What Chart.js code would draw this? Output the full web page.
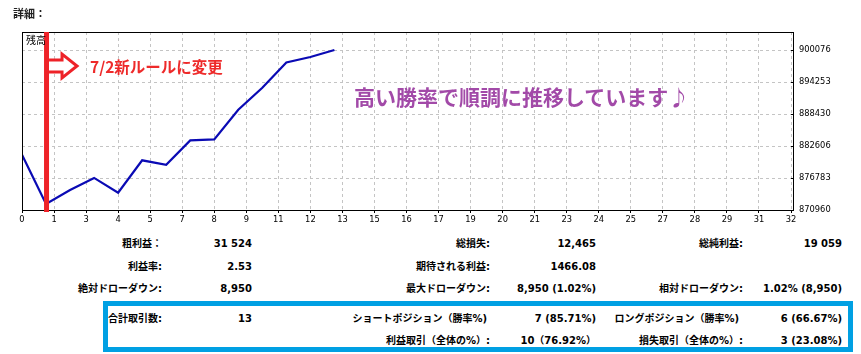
<!DOCTYPE html>
<html>
<head>
<meta charset="utf-8">
<script src="https://cdn.jsdelivr.net/npm/chart.js@4/dist/chart.umd.min.js"></script>
<style>
  html, body { margin:0; padding:0; background:#fff; }
  body { width:861px; height:354px; position:relative; overflow:hidden;
         font-family:"DejaVu Sans","Noto Sans CJK JP",sans-serif; color:#000; }
  #wrap { position:absolute; left:0; top:0; width:861px; height:230px; }
  .t { position:absolute; height:16px; line-height:16px; white-space:nowrap;
       font-weight:bold; font-size:10px; }
  .r { text-align:right; }
  #box { position:absolute; left:103px; top:301px; width:740px; height:41px;
         border:5px solid #00a0e3; }
  .ann { position:absolute; white-space:nowrap; font-family:"Noto Sans CJK JP",sans-serif; }
</style>
</head>
<body>
<div id="wrap"><canvas id="c" width="861" height="230"></canvas></div>

<div class="ann" style="left:13px;top:5px;font-size:11px;line-height:16px;font-weight:bold;color:#222;">詳細：</div>
<div class="ann" style="left:26px;top:32px;font-size:10px;line-height:16px;">残高</div>
<div class="ann" style="left:90px;top:56px;font-size:15.5px;line-height:20px;font-weight:bold;color:#ee2a2a;">7/2新ルールに変更</div>
<div class="ann" style="left:354px;top:83px;font-size:21px;line-height:26px;font-weight:bold;color:#a24aa8;">高い勝率で順調に推移しています♪</div>

<div id="box"></div>
<div id="stats"></div>

<script>
// ---- data ----
const trades   = [0, 1, 2, 3, 4, 5, 6, 7, 8, 9, 10, 11, 12, 13];
const balance  = [881017, 872067, 874600, 876800, 874100, 880000, 879185, 883620, 883810, 889200, 893200, 897820, 898800, 900076];
const xTickLabels = ['0','1','3','4','5','7','8','9','11','12','13','15','16','17','19','20','21','23','24','25','27','28','29','31','32'];
const yTickLabels = ['870960','876783','882606','888430','894253','900076'];
const yTickValues = [870960, 876783.2, 882606.4, 888429.6, 894252.8, 900076];
const xMax = 32;
const yMin = 870960, yMax = 903352;

// statistics rows: [text, rightEdge, centerY]
const statLabels = [
  ['粗利益：',162,244], ['総損失:',490,244], ['総純利益:',743,244],
  ['利益率:',162,267], ['期待される利益:',490,267],
  ['絶対ドローダウン:',162,289], ['最大ドローダウン:',490,289], ['相対ドローダウン:',743,289],
  ['合計取引数:',162,319], ['ショートポジション（勝率%)',487,319], ['ロングポジション（勝率%)',739,319],
  ['利益取引（全体の%）:',490,341], ['損失取引（全体の%）:',743,341]
];
const statValues = [
  ['31 524',252,244], ['12,465',596,244], ['19 059',842,244],
  ['2.53',252,267], ['1466.08',596,267],
  ['8,950',252,289], ['8,950 (1.02%)',596,289], ['1.02% (8,950)',842,289],
  ['13',252,319], ['7 (85.71%)',596,319], ['6 (66.67%)',842,319],
  ['10（76.92%）',596,341], ['3 (23.08%)',842,341]
];

const stats = document.getElementById('stats');
statLabels.concat(statValues).forEach(([txt, right, cy]) => {
  const d = document.createElement('div');
  d.className = 't r';
  d.style.right = (861 - right) + 'px';
  d.style.top = (cy - 8) + 'px';
  d.textContent = txt;
  stats.appendChild(d);
});

const xTickValues = xTickLabels.map((_, i) => i * xMax / (xTickLabels.length - 1));

const framePlugin = {
  id: 'frame',
  afterDatasetsDraw(chart) {
    const {ctx, chartArea: a} = chart;
    ctx.save();
    ctx.strokeStyle = '#000';
    ctx.lineWidth = 1;
    ctx.strokeRect(a.left + 0.5, a.top + 0.5, a.right - a.left + 2, a.bottom - a.top);
    ctx.restore();
  },
  afterDraw(chart) {
    const {ctx, chartArea: a} = chart;
    const xs = chart.scales.x;
    const rx = xs.getPixelForValue(1);
    ctx.save();
    ctx.fillStyle = '#ee2228';
    ctx.fillRect(rx - 2, a.top, 5, a.bottom - a.top + 2);
    const x0 = rx + 3, yc = 66;
    ctx.beginPath();
    ctx.moveTo(x0, yc - 6);
    ctx.lineTo(x0 + 13, yc - 6);
    ctx.lineTo(x0 + 13, yc - 12);
    ctx.lineTo(x0 + 28, yc);
    ctx.lineTo(x0 + 13, yc + 12);
    ctx.lineTo(x0 + 13, yc + 6);
    ctx.lineTo(x0, yc + 6);
    ctx.fillStyle = '#fff';
    ctx.fill();
    ctx.lineWidth = 3;
    ctx.strokeStyle = '#ee2228';
    ctx.lineJoin = 'miter';
    ctx.stroke();
    ctx.restore();
  }
};

new Chart(document.getElementById('c'), {
  type: 'line',
  data: {
    datasets: [{
      data: trades.map((t, i) => ({x: t, y: balance[i]})),
      borderColor: '#0a0ab4',
      borderWidth: 2.2,
      pointRadius: 0,
      tension: 0,
      fill: false
    }]
  },
  options: {
    responsive: false,
    animation: false,
    layout: { padding: { left: 22, top: 32, right: 0, bottom: 0 } },
    plugins: { legend: { display: false }, tooltip: { enabled: false } },
    scales: {
      x: {
        type: 'linear', min: 0, max: xMax,
        afterBuildTicks: s => { s.ticks = xTickValues.map(v => ({value: v})); },
        afterFit: s => { s.height = 20; },
        grid: { color: '#c4c4c4', tickLength: 3, tickColor: '#000' },
        border: { display: false, dash: [3, 3] },
        ticks: {
          autoSkip: false, maxRotation: 0, padding: 2, color: '#000',
          font: { family: 'DejaVu Sans', size: 8.3 },
          callback: (v, i) => xTickLabels[i]
        }
      },
      y: {
        type: 'linear', position: 'right', min: yMin, max: yMax,
        afterBuildTicks: s => { s.ticks = yTickValues.map(v => ({value: v})); },
        afterFit: s => { s.width = 70; },
        grid: { color: '#c4c4c4', tickLength: 3, tickColor: '#000' },
        border: { display: false, dash: [3, 3] },
        ticks: {
          autoSkip: false, padding: 5, color: '#000',
          font: { family: 'DejaVu Sans', size: 8.3 },
          callback: (v, i) => yTickLabels[i]
        }
      }
    }
  },
  plugins: [framePlugin]
});
</script>
</body>
</html>
